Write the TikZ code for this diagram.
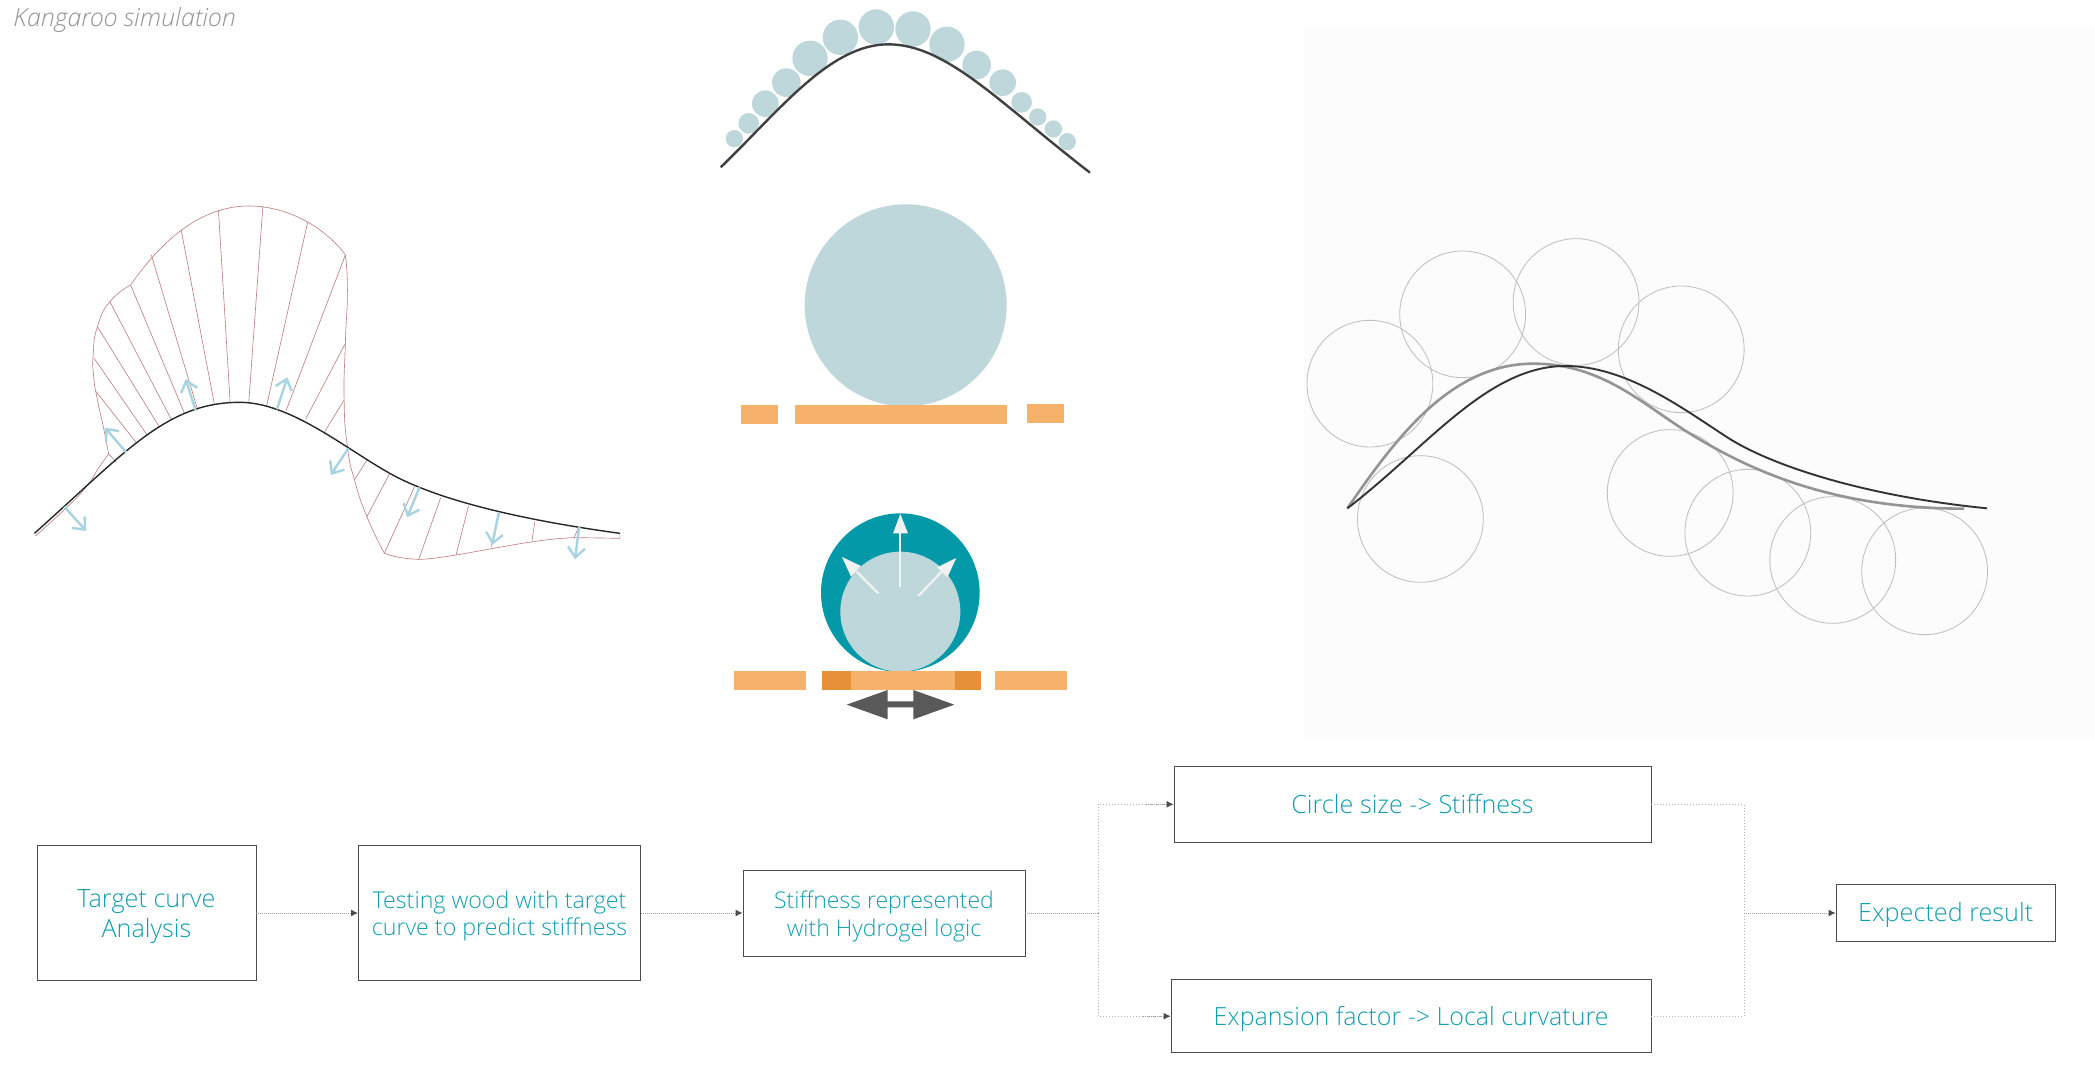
\documentclass[tikz,border=0pt]{standalone}
\usepackage{fontspec}
\setmainfont{Open Sans Light}
\newfontfamily\titlefont[ItalicFont={Open Sans Light Italic}]{Open Sans Light}
\usetikzlibrary{arrows.meta}
\definecolor{tealtxt}{HTML}{129EB0}
\definecolor{lightblue}{HTML}{BDD7DA}
\definecolor{orangeA}{HTML}{F6B26B}
\definecolor{orangeB}{HTML}{E69138}
\definecolor{tealdk}{HTML}{0499A8}
\definecolor{ribred}{HTML}{BE8080}
\definecolor{arrblue}{HTML}{A8D3E3}
\definecolor{panelbg}{HTML}{FCFCFC}
\newcommand{\fs}[2]{\fontsize{#1}{#2}\selectfont}
\newcommand{\lift}[1]{\rule{0pt}{#1pt}}
\tikzset{
  flowbox/.style={draw=black!70,line width=0.42pt,inner sep=0pt,align=center,text=tealtxt},
  conn/.style={draw=black!38,line width=0.5pt,dash pattern=on 0.5pt off 0.5pt},
  connv/.style={draw=black!30,line width=0.45pt,dash pattern=on 0.5pt off 1pt},
  tip/.style={-{Latex[length=3.5pt,width=3.5pt,black!70]}},
  rib/.style={draw=ribred,line width=0.32pt},
  force/.style={draw=arrblue,line width=1.2pt,-{Straight Barb[length=5pt,width=8.5pt]}},
  ghost/.style={draw=black!25,line width=0.42pt},
  whitearrow/.style={draw=black!5,line width=1.1pt},
}
\begin{document}
\begin{tikzpicture}[x=0.5pt,y=-0.5pt]
\useasboundingbox (0,0) rectangle (2095,1075);

\node[anchor=west,inner sep=0pt,text=black!42,font=\titlefont\itshape\fontsize{12.5}{14}\selectfont] (title) at (13,20) {Kangaroo simulation};

% ---- left: force diagram (zoom-1 coordinates)
\begin{scope}[shift={(0,180)},xscale=0.41459,yscale=0.33333]
\draw[rib] plot[smooth,tension=0.9] coordinates {(85,1068) (150,995) (205,925) (240,860) (262,822)};
\draw[rib] plot[smooth,tension=0.9] coordinates {(262,822) (250,745) (235,660) (226,590) (225,520) (235,440) (265,365) (315,315)};
\draw[rib] (315,315) .. controls (385,190) and (480,78) .. (600,78) .. controls (700,78) and (790,150) .. (833,225);
\draw[rib] plot[smooth,tension=0.9] coordinates {(833,225) (838,330) (833,490) (830,660) (838,800) (855,900) (885,1010) (927,1120)};
\draw[rib] (927,1120) .. controls (960,1135) and (1000,1140) .. (1030,1137) .. controls (1130,1125) and (1290,1073) .. (1395,1073) -- (1495,1075) -- (1495,1060);
\draw[rib] (262,822)--(280,845) (232,635)--(330,790) (227,535)--(355,765) (235,440)--(385,742)
  (265,365)--(413,718) (315,315)--(445,700) (365,225)--(477,690) (437,150)--(517,672)
  (527,92)--(555,665) (634,80)--(600,668) (742,127)--(643,678) (833,225)--(690,692)
  (833,490)--(737,718) (830,660)--(783,755) (885,840)--(855,900) (940,880)--(885,1010)
  (1000,920)--(927,1120) (1063,953)--(1010,1138) (1130,978)--(1100,1125) (1205,1000)--(1185,1100)
  (1290,1025)--(1283,1082) (1395,1042)--(1385,1073);
\draw[black!85,line width=0.7pt] (83,1060) .. controls (300,820) and (400,667) .. (578,667) .. controls (700,667) and (830,803) .. (940,880) .. controls (1030,943) and (1200,1010) .. (1495,1060);
\draw[force] (155,980)--(208,1053);
\draw[force] (305,818)--(253,743);
\draw[force] (472,692)--(448,597);
\draw[force] (668,688)--(693,592);
\draw[force] (840,805)--(798,885);
\draw[force] (1012,922)--(982,1012);
\draw[force] (1203,998)--(1187,1095);
\draw[force] (1397,1040)--(1387,1138);
\end{scope}

% ---- centre top (zoom-2 coordinates)
\begin{scope}[shift={(700,0)},scale=0.33333]
\foreach \cx/\cy/\r in {103/416/26,146/370/31,196/311/40,259/248/43,330/175/53,421/112/53,529/81/53,639/87/53,741/133/53,830/195/43,908/248/40,965/307/31,1013/351/26,1060/387/26,1102/425/26}
  \fill[lightblue] (\cx,\cy) circle[radius=\r];
\draw[black!75,line width=1.2pt] (62,502) .. controls (240,330) and (390,133) .. (565,133) .. controls (740,133) and (900,310) .. (1170,518);
\fill[lightblue] (617,916) circle[radius=303];
\fill[orangeA] (122,1216) rectangle (235,1272);
\fill[orangeA] (285,1216) rectangle (920,1272);
\fill[orangeA] (980,1212) rectangle (1093,1268);
\end{scope}

% ---- centre bottom (zoom-3 coordinates)
\begin{scope}[shift={(700,490)},scale=0.33333]
\fill[tealdk] (601,308) circle[radius=238];
\fill[lightblue] (601,365) circle[radius=180];
\fill[orangeA] (103,543) rectangle (318,599);
\fill[orangeA] (365,543) rectangle (842,599);
\fill[orangeB] (365,543) rectangle (453,599);
\fill[orangeB] (765,543) rectangle (842,599);
\fill[orangeA] (886,543) rectangle (1101,599);
\fill[black!65] (440,644) -- (563,600) -- (563,634) -- (640,634) -- (640,600) -- (763,644) -- (640,688) -- (640,652) -- (563,652) -- (563,688) -- cycle;
\draw[whitearrow] (601,290) -- (601,130);
\fill[black!5] (601,72) -- (624,130) -- (579,130) -- cycle;
\draw[whitearrow] (535,310) -- (470,245);
\fill[black!5] (426,201) -- (483,228) -- (453,260) -- cycle;
\draw[whitearrow] (655,318) -- (725,245);
\fill[black!5] (769,204) -- (742,262) -- (711,232) -- cycle;
\end{scope}

% ---- right panel (zoom-4 coordinates)
\fill[panelbg] (1304,27) rectangle (2095,737);
\begin{scope}[shift={(1290,220)},xscale=0.45918,yscale=0.33333]
\foreach \cx/\cy in {174/491,376/283,623/246,852/388,284/897,828/819,997/938,1182/1020,1382/1054}
  \draw[ghost] (\cx,\cy) ellipse[x radius=137,y radius=190];
\draw[black!42,line width=1.3pt] (125,865) .. controls (230,655) and (350,431) .. (530,431) .. controls (680,431) and (770,555) .. (870,640) .. controls (1000,750) and (1180,866) .. (1468,866);
\draw[black!80,line width=0.95pt] (125,865) .. controls (300,680) and (430,438) .. (600,438) .. controls (730,438) and (850,560) .. (950,650) .. controls (1050,740) and (1260,830) .. (1518,865);
\end{scope}

% ---- flow chart
\node[flowbox,minimum width=109.5pt,minimum height=67.5pt,font=\fs{12.6}{14.7}] (b1) at (146.5,913) {\lift{12.4}Target curve\\Analysis};
\node[flowbox,minimum width=141pt,minimum height=67.5pt,font=\fs{11.6}{13.7}] (b2) at (499.5,913) {\lift{11.8}Testing wood with target\\curve to predict stiffness};
\node[flowbox,minimum width=141pt,minimum height=43pt,font=\fs{11.5}{13.7}] (b3) at (884,913) {\lift{12.2}Stiffness represented\\with Hydrogel logic};
\node[flowbox,minimum width=238.5pt,minimum height=38pt,font=\fs{12.6}{14.7}] (b4) at (1412.5,804.3) {Circle size -> Stiffness};
\node[flowbox,minimum width=240pt,minimum height=36.5pt,font=\fs{12.5}{14.7}] (b5) at (1411,1016.2) {\lift{12.3}Expansion factor -> Local curvature};
\node[flowbox,minimum width=109.7pt,minimum height=28.5pt,font=\fs{12.6}{14.7}] (b6) at (1945.7,913) {\lift{12}Expected result};
\coordinate (split) at (1098,913);
\coordinate (merge) at (1744,913);
\draw[conn,tip] (b1) -- (b2);
\draw[conn,tip] (b2) -- (b3);
\draw[conn] (b3) -- (split);
\draw[connv] (split) |- (b4.west);
\draw[connv] (split) |- (b5.west);
\draw[conn,tip] ([xshift=-14pt]b4.west) -- (b4.west);
\draw[conn,tip] ([xshift=-14pt]b5.west) -- (b5.west);
\draw[connv] (b4.east) -| (merge);
\draw[connv] (b5.east) -| (merge);
\draw[conn,tip] (merge) -- (b6);
\end{tikzpicture}
\end{document}
